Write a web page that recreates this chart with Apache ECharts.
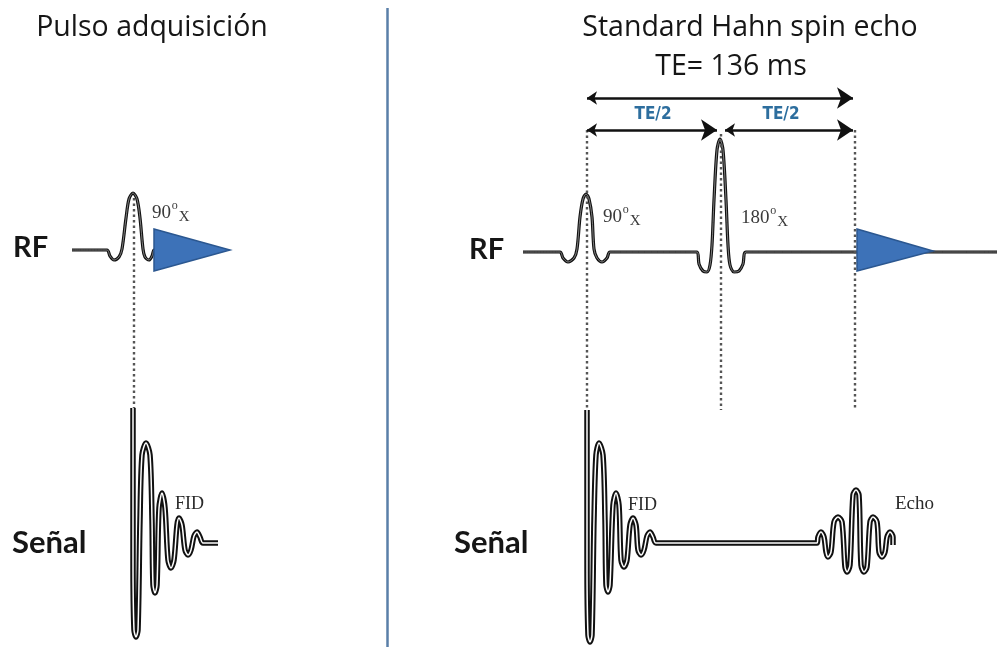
<!DOCTYPE html>
<html>
<head>
<meta charset="utf-8">
<script src="https://cdn.jsdelivr.net/npm/echarts@6/dist/echarts.min.js"></script>
<style>
html,body{margin:0;padding:0;background:#fff;}
#chart{width:997px;height:647px;}
</style>
</head>
<body>
<div id="chart"></div>
<script>
// ---- data (pixel space of the picture) ----
const titleTexts = ['Pulso adquisición', 'Standard Hahn spin echo', 'TE= 136 ms'];
const rowLabels = ['RF', 'Señal'];
const pulseLabels = ['90', '180'];
const signalLabels = ['FID', 'Echo'];
const intervalLabel = 'TE/2';

const rfLeft = [[72,250],[107,250],[110,256],[114,260],[119,257],[122,249],[126,218],[129,199],[133,193],[137,199],[140,218],[143,249],[145,257],[149,260],[152,256],[154,250],[156,250]];
const rfRight = [[523,252],[560,252],[563,258],[568,262],[574,258],[577,249],[580,217],[583,199],[586,194],[589,199],[592,217],[594,249],[597,258],[602,262],[607,258],[610,252],[697,252],[699,264],[703,271],[707,272],[710,265],[712,245],[714,200],[717,150],[720,139],[723,150],[726,200],[728,245],[730,265],[734,272],[739,271],[743,264],[746,252],[997,252]];

const fidLeft = [[133,408],[133,560],[134,630],[136,637],[138,630],[140,520],[142,455],[146,443],[150,455],[152,520],[153,585],[155,593],[157,585],[159,508],[162,493],[165,508],[168,560],[171,568],[174,560],[177,525],[179,518],[182,525],[185,550],[188,555],[191,550],[194,536],[197,532],[200,537],[203,543],[218,543]];
const signalRight = [[587,410],[587,560],[588,635],[590,642],[592,635],[594,520],[596,455],[599,443],[603,455],[605,520],[606,585],[608,592],[610,585],[613,505],[616,493],[619,505],[621,560],[624,567],[627,560],[630,525],[633,518],[636,525],[638,550],[641,555],[644,550],[647,536],[650,532],[653,537],[656,543],
  [817,543],[818,537],[821,532],[824,537],[826,552],[828,557],[831,552],[834,522],[838,517],[842,522],[845,567],[847,572],[850,565],[853,495],[856,490],[859,495],[861,565],[864,572],[867,567],[870,522],[873,517],[877,522],[879,552],[882,557],[885,552],[887,537],[890,532],[893,537],[893,545]];

const triangleLeft = [[154,229],[230,250],[154,271]];
const triangleRight = [[857,229],[933,251],[857,271]];

const dottedLines = [
  [[134,198],[134,408]],
  [[587,130],[587,410]],
  [[721,134],[721,410]],
  [[855,130],[855,410]]
];
const arrowLines = [
  [[587,98],[853,98]],
  [[587,130],[717,130]],
  [[725,130],[853,130]]
];
const dividerLine = [[387,8],[387,647]];

// ---- chart ----
const chart = echarts.init(document.getElementById('chart'), null, {renderer:'canvas'});

function doubleLine(data, outerW, innerW, innerColor, smooth){
  return [
    {type:'line', data:data, showSymbol:false, silent:true, smooth:smooth, z:2,
     lineStyle:{color:'#111', width:outerW, cap:'butt', join:'round'}},
    {type:'line', data:data, showSymbol:false, silent:true, smooth:smooth, z:3,
     lineStyle:{color:innerColor, width:innerW, cap:'butt', join:'round'}}
  ];
}

function triangleSeries(pts){
  return {
    type:'custom', silent:true, z:4,
    data:[0],
    renderItem:function(params, api){
      const p = pts.map(function(d){ return api.coord(d); });
      return {type:'polygon', shape:{points:p},
        style:{fill:'#3d72b8', stroke:'#2b5790', lineWidth:1.5}};
    }
  };
}

const serif = '"Liberation Serif","DejaVu Serif",serif';
const sans = '"Open Sans",Lato,sans-serif';
const boldSans = 'Lato,"Open Sans",sans-serif';
const narrow = '"Liberation Sans Narrow","DejaVu Sans Condensed",sans-serif';

function txt(text, x, y, size, opts){
  opts = opts || {};
  return {type:'text', x:x, y:y, z:10, silent:true,
    style:{text:text, fontSize:size, fontFamily:opts.family||sans,
      fontWeight:opts.weight||'normal', fill:opts.color||'#161616',
      align:opts.align||'left', verticalAlign:'middle'}};
}

function degreeLabel(num, x, y){
  return [
    txt(num, x, y, 19, {family:serif, color:'#3a3a3a'}),
    txt('o', x + (num.length*9.6) + 0.5, y-7, 12, {family:serif, color:'#3a3a3a'}),
    txt('X', x + (num.length*9.6) + 7.5, y+4, 15, {family:serif, color:'#3a3a3a'})
  ];
}

const option = {
  animation:false,
  backgroundColor:'#ffffff',
  grid:{left:0, right:0, top:0, bottom:0},
  xAxis:{type:'value', min:0, max:997, show:false},
  yAxis:{type:'value', min:0, max:647, inverse:true, show:false},
  series:[].concat(
    doubleLine(rfLeft, 3.2, 0.8, '#9a9a9a', 0.3),
    doubleLine(rfRight, 3.2, 0.8, '#9a9a9a', 0.3),
    doubleLine(fidLeft, 5.5, 1.5, '#ffffff', 0.3),
    doubleLine(signalRight, 5.5, 1.5, '#ffffff', 0.3),
    [
      triangleSeries(triangleLeft),
      triangleSeries(triangleRight),
      {type:'lines', coordinateSystem:'cartesian2d', silent:true, z:5,
       data:dottedLines.map(function(c){ return {coords:c}; }),
       symbol:['none','none'],
       lineStyle:{color:'#555', width:2.4, type:[2.5,3], opacity:1}},
      {type:'lines', coordinateSystem:'cartesian2d', silent:true, z:5,
       data:arrowLines.map(function(c){ return {coords:c}; }),
       symbol:['arrow','arrow'], symbolSize:[10,16],
       lineStyle:{color:'#111', width:2.5, opacity:1}},
      {type:'lines', coordinateSystem:'cartesian2d', silent:true, z:1,
       data:[{coords:dividerLine}],
       symbol:['none','none'],
       lineStyle:{color:'#5a7fa8', width:2.5, opacity:1}}
    ]
  ),
  graphic:[].concat(
    [
      txt(titleTexts[0], 152, 28, 28.5, {align:'center'}),
      txt(titleTexts[1], 750, 28, 28.5, {align:'center'}),
      txt(titleTexts[2], 731, 67, 28.5, {align:'center'}),
      txt(rowLabels[0], 13, 248, 29, {weight:'bold', family:boldSans}),
      txt(rowLabels[0], 469, 250, 29, {weight:'bold', family:boldSans}),
      txt(rowLabels[1], 12, 543, 31, {weight:'bold', family:boldSans}),
      txt(rowLabels[1], 454, 543, 31, {weight:'bold', family:boldSans}),
      txt(intervalLabel, 653, 115, 17, {weight:'bold', color:'#2d6e9e', align:'center', family:narrow}),
      txt(intervalLabel, 781, 115, 17, {weight:'bold', color:'#2d6e9e', align:'center', family:narrow}),
      txt(signalLabels[0], 175, 504, 18, {family:serif, color:'#2a2a2a'}),
      txt(signalLabels[0], 628, 505, 18, {family:serif, color:'#2a2a2a'}),
      txt(signalLabels[1], 895, 504, 19, {family:serif, color:'#2a2a2a'})
    ],
    degreeLabel(pulseLabels[0], 152, 213),
    degreeLabel(pulseLabels[0], 603, 217),
    degreeLabel(pulseLabels[1], 741, 218)
  )
};
chart.setOption(option);
</script>
</body>
</html>
